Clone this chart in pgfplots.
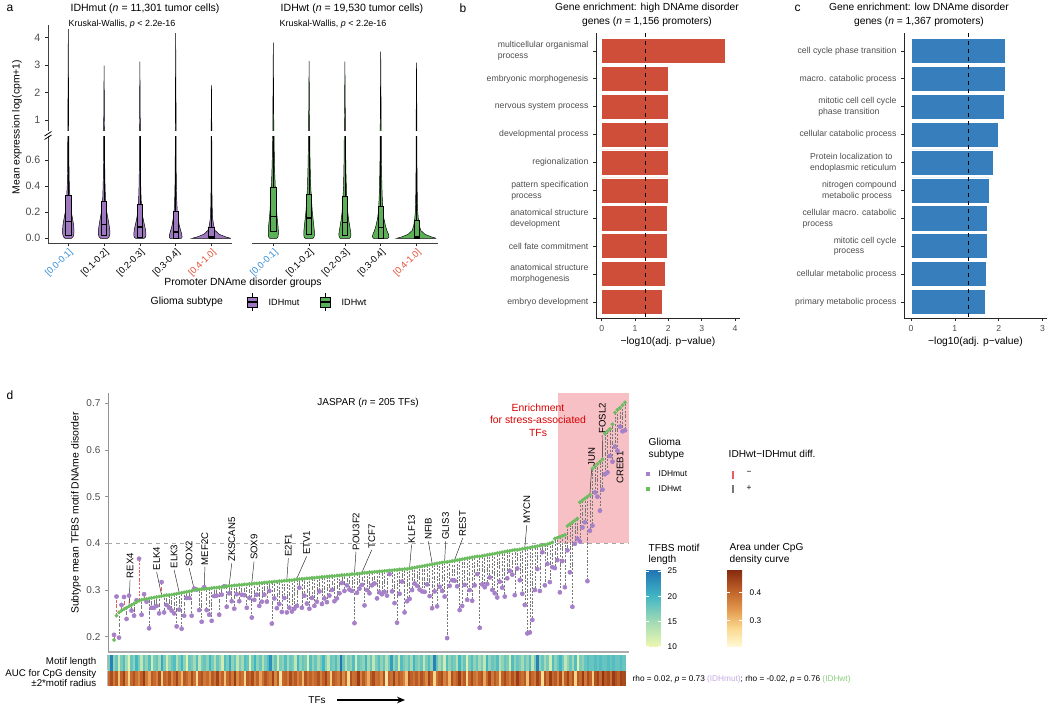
\documentclass[border=0pt]{standalone}
\usepackage{pgfplots}
\usepackage{pgfplotstable}
\pgfplotsset{compat=1.18}
\usepackage{fontspec}
\setmainfont{Liberation Sans}
\usetikzlibrary{arrows.meta}

\definecolor{mutc}{RGB}{157,120,192}
\definecolor{wtc}{RGB}{92,176,88}
\definecolor{ptp}{RGB}{166,128,200}
\definecolor{ptg}{RGB}{108,188,96}
\definecolor{ltp}{RGB}{196,170,225}
\definecolor{ltg}{RGB}{140,205,125}
\definecolor{barred}{RGB}{207,78,57}
\definecolor{barblue}{RGB}{54,127,188}
\definecolor{lblblue}{RGB}{52,140,215}
\definecolor{lblred}{RGB}{226,78,52}
\definecolor{tg}{RGB}{77,77,77}
\definecolor{pinkbg}{RGB}{246,192,197}
\definecolor{dgray}{RGB}{120,120,120}
\definecolor{dred}{RGB}{240,90,95}
\definecolor{m10}{RGB}{237,248,177}
\definecolor{m15}{RGB}{161,218,180}
\definecolor{m20}{RGB}{65,182,196}
\definecolor{m25}{RGB}{34,118,180}
\definecolor{a0}{RGB}{255,250,215}
\definecolor{a1}{RGB}{250,215,140}
\definecolor{a2}{RGB}{225,150,75}
\definecolor{a3}{RGB}{190,95,40}
\definecolor{a4}{RGB}{135,45,15}
\pgfdeclareverticalshading{motifsh}{100bp}{color(0bp)=(m10); color(25bp)=(m10); color(41.67bp)=(m15); color(58.33bp)=(m20); color(75bp)=(m25); color(100bp)=(m25)}
\pgfdeclareverticalshading{aucsh}{100bp}{color(0bp)=(a0); color(25bp)=(a0); color(37.5bp)=(a1); color(50bp)=(a2); color(62.5bp)=(a3); color(75bp)=(a4); color(100bp)=(a4)}

\newcommand{\fs}[1]{\fontsize{#1}{#1}\selectfont}

\pgfplotsset{every axis/.append style={scale only axis, anchor=south west,
  /pgf/number format/assume math mode=true,
  tick align=outside, major tick length=2.2pt,
  axis line style={line width=0.6pt, draw=black!85},
  tick style={line width=0.5pt, draw=black!85}}}

\pgfplotstableread{
s y m1 m2 m3 m4 m5 w1 w2 w3 w4 w5
1 0 0.09 0.10 0.12 0.16 0.54 0.10 0.11 0.13 0.20 0.55
1 0.01 0.13 0.14 0.16 0.18 0.40 0.13 0.14 0.16 0.23 0.42
1 0.03 0.155 0.16 0.17 0.17 0.22 0.14 0.15 0.17 0.22 0.24
1 0.06 0.16 0.16 0.16 0.14 0.10 0.14 0.145 0.155 0.17 0.12
1 0.10 0.15 0.14 0.13 0.10 0.06 0.13 0.13 0.13 0.13 0.075
1 0.15 0.12 0.11 0.09 0.07 0.035 0.11 0.11 0.10 0.09 0.05
1 0.20 0.085 0.075 0.06 0.045 0.024 0.095 0.09 0.08 0.065 0.035
1 0.30 0.05 0.04 0.035 0.028 0.016 0.075 0.065 0.055 0.045 0.024
1 0.40 0.03 0.027 0.024 0.02 0.012 0.055 0.045 0.04 0.033 0.018
1 0.50 0.022 0.02 0.018 0.016 0.01 0.04 0.035 0.03 0.026 0.015
1 0.60 0.018 0.016 0.015 0.013 0.009 0.03 0.026 0.024 0.02 0.012
1 0.85 0.014 0.013 0.012 0.011 0.007 0.018 0.017 0.016 0.014 0.009
-1 0.85 0.014 0.013 0.012 0.011 0.007 0.018 0.017 0.016 0.014 0.009
-1 0.60 0.018 0.016 0.015 0.013 0.009 0.03 0.026 0.024 0.02 0.012
-1 0.50 0.022 0.02 0.018 0.016 0.01 0.04 0.035 0.03 0.026 0.015
-1 0.40 0.03 0.027 0.024 0.02 0.012 0.055 0.045 0.04 0.033 0.018
-1 0.30 0.05 0.04 0.035 0.028 0.016 0.075 0.065 0.055 0.045 0.024
-1 0.20 0.085 0.075 0.06 0.045 0.024 0.095 0.09 0.08 0.065 0.035
-1 0.15 0.12 0.11 0.09 0.07 0.035 0.11 0.11 0.10 0.09 0.05
-1 0.10 0.15 0.14 0.13 0.10 0.06 0.13 0.13 0.13 0.13 0.075
-1 0.06 0.16 0.16 0.16 0.14 0.10 0.14 0.145 0.155 0.17 0.12
-1 0.03 0.155 0.16 0.17 0.17 0.22 0.14 0.15 0.17 0.22 0.24
-1 0.01 0.13 0.14 0.16 0.18 0.40 0.13 0.14 0.16 0.23 0.42
-1 0 0.09 0.10 0.12 0.16 0.54 0.10 0.11 0.13 0.20 0.55
1 0 0.09 0.10 0.12 0.16 0.54 0.10 0.11 0.13 0.20 0.55
}\violtab

\pgfplotstableread{
g p m a
0.193 0.204 17 0.40
0.245 0.286 24 0.44
0.252 0.198 16 0.38
0.256 0.268 18 0.42
0.259 0.285 12 0.30
0.262 0.238 17 0.41
0.265 0.288 19 0.45
0.268 0.256 15 0.37
0.271 0.245 11 0.28
0.274 0.278 18 0.40
0.277 0.367 16 0.43
0.279 0.247 20 0.39
0.280 0.291 17 0.36
0.281 0.275 13 0.41
0.282 0.218 18 0.46
0.283 0.262 16 0.38
0.284 0.262 19 0.33
0.285 0.266 12 0.42
0.286 0.250 17 0.40
0.287 0.317 18 0.37
0.288 0.252 15 0.44
0.289 0.268 21 0.29
0.289 0.262 17 0.41
0.290 0.256 12 0.39
0.291 0.250 16 0.43
0.292 0.222 18 0.36
0.293 0.258 19 0.40
0.294 0.217 14 0.45
0.295 0.245 17 0.38
0.296 0.283 20 0.31
0.297 0.283 16 0.42
0.298 0.245 11 0.40
0.300 0.303 18 0.37
0.301 0.301 17 0.44
0.301 0.257 15 0.39
0.302 0.232 19 0.27
0.302 0.306 13 0.41
0.303 0.257 17 0.43
0.303 0.247 18 0.38
0.304 0.234 16 0.40
0.305 0.287 20 0.35
0.305 0.288 17 0.42
0.306 0.247 14 0.39
0.306 0.290 18 0.45
0.307 0.308 16 0.37
0.308 0.264 12 0.41
0.309 0.293 19 0.30
0.309 0.276 17 0.40
0.310 0.260 21 0.43
0.310 0.291 16 0.38
0.311 0.276 18 0.46
0.311 0.290 13 0.36
0.312 0.289 17 0.41
0.312 0.262 15 0.39
0.313 0.283 19 0.28
0.313 0.241 18 0.42
0.314 0.279 11 0.40
0.314 0.290 17 0.44
0.315 0.266 20 0.37
0.315 0.275 16 0.41
0.316 0.290 18 0.33
0.316 0.275 14 0.39
0.317 0.298 17 0.43
0.317 0.228 19 0.40
0.318 0.282 23 0.38
0.318 0.261 16 0.45
0.319 0.270 18 0.36
0.319 0.253 12 0.42
0.320 0.283 17 0.26
0.320 0.252 16 0.40
0.321 0.262 19 0.41
0.321 0.254 15 0.38
0.322 0.260 18 0.44
0.323 0.266 17 0.39
0.323 0.305 13 0.42
0.324 0.262 20 0.37
0.324 0.288 16 0.40
0.325 0.271 18 0.31
0.325 0.260 17 0.43
0.326 0.283 11 0.39
0.326 0.266 19 0.41
0.327 0.275 16 0.38
0.327 0.297 18 0.40
0.328 0.270 15 0.43
0.328 0.282 17 0.37
0.329 0.274 20 0.41
0.329 0.288 16 0.45
0.330 0.300 13 0.39
0.330 0.276 18 0.29
0.331 0.282 17 0.42
0.331 0.293 19 0.40
0.332 0.315 16 0.38
0.332 0.298 25 0.44
0.333 0.310 18 0.36
0.333 0.301 14 0.41
0.334 0.298 17 0.27
0.334 0.229 16 0.43
0.335 0.294 19 0.39
0.335 0.303 12 0.40
0.336 0.311 18 0.46
0.337 0.267 17 0.37
0.337 0.300 16 0.42
0.338 0.293 20 0.38
0.338 0.310 15 0.32
0.339 0.314 18 0.41
0.339 0.282 13 0.44
0.340 0.295 17 0.39
0.340 0.291 19 0.40
0.341 0.296 16 0.36
0.341 0.288 18 0.43
0.342 0.334 14 0.25
0.342 0.297 17 0.41
0.343 0.272 22 0.39
0.343 0.230 16 0.45
0.344 0.292 18 0.38
0.344 0.318 12 0.42
0.345 0.252 19 0.40
0.345 0.276 17 0.37
0.346 0.281 16 0.30
0.347 0.300 18 0.44
0.348 0.314 15 0.41
0.349 0.309 20 0.39
0.350 0.301 17 0.42
0.351 0.297 16 0.38
0.352 0.296 18 0.43
0.353 0.312 13 0.40
0.354 0.287 17 0.36
0.355 0.261 19 0.45
0.356 0.297 16 0.41
0.357 0.265 24 0.28
0.358 0.307 18 0.39
0.359 0.298 15 0.42
0.360 0.286 17 0.44
0.360 0.197 12 0.37
0.361 0.309 19 0.40
0.362 0.321 16 0.31
0.363 0.320 18 0.43
0.364 0.308 17 0.39
0.365 0.257 14 0.41
0.366 0.266 20 0.46
0.367 0.311 16 0.38
0.368 0.279 18 0.42
0.369 0.300 11 0.27
0.370 0.277 17 0.40
0.371 0.310 19 0.44
0.372 0.334 16 0.39
0.372 0.219 18 0.37
0.373 0.312 15 0.41
0.374 0.306 17 0.43
0.375 0.313 13 0.33
0.376 0.327 20 0.40
0.377 0.300 16 0.45
0.378 0.293 18 0.38
0.379 0.284 17 0.42
0.380 0.318 19 0.39
0.381 0.305 14 0.29
0.382 0.286 16 0.41
0.383 0.325 18 0.44
0.384 0.341 17 0.40
0.385 0.333 12 0.37
0.386 0.289 19 0.43
0.386 0.346 16 0.39
0.387 0.321 18 0.46
0.388 0.292 17 0.41
0.389 0.268 15 0.39
0.390 0.207 18 0.42
0.391 0.209 16 0.30
0.392 0.236 19 0.44
0.393 0.300 13 0.40
0.394 0.345 17 0.38
0.395 0.298 24 0.45
0.396 0.381 16 0.41
0.397 0.310 18 0.27
0.398 0.356 15 0.43
0.400 0.317 17 0.39
0.402 0.349 12 0.46
0.410 0.347 19 0.40
0.412 0.364 16 0.42
0.414 0.295 18 0.37
0.416 0.362 20 0.44
0.418 0.306 17 0.32
0.437 0.385 13 0.41
0.441 0.338 16 0.45
0.445 0.264 18 0.39
0.449 0.399 15 0.43
0.453 0.410 19 0.28
0.488 0.404 11 0.42
0.492 0.434 17 0.40
0.496 0.445 16 0.46
0.500 0.319 18 0.38
0.504 0.427 19 0.44
0.560 0.438 18 0.41
0.565 0.509 18 0.29
0.570 0.500 19 0.43
0.575 0.470 18 0.45
0.580 0.515 19 0.40
0.635 0.548 18 0.47
0.640 0.552 18 0.42
0.645 0.587 19 0.44
0.655 0.575 18 0.39
0.680 0.607 19 0.46
0.686 0.598 18 0.43
0.690 0.650 18 0.41
0.696 0.640 19 0.45
0.702 0.642 18 0.44
}\tfdata

\newcommand{\violin}[3]{\addplot[fill=#3, draw=black, line width=0.35pt] table[x expr={#1+\thisrow{s}*\thisrow{#2}}, y=y] {\violtab};}
% box: left x, centre x, right x, q1, median, q3, colour
\newcommand{\bx}[7]{%
 \addplot[black, line width=0.5pt] coordinates {(#2,#6) (#2,0.9)};
 \addplot[fill=#7, draw=black, line width=0.5pt] coordinates {(#1,#4) (#3,#4) (#3,#6) (#1,#6) (#1,#4)};
 \addplot[black, line width=1.2pt] coordinates {(#1,#5) (#3,#5)};}

\begin{document}
\begin{tikzpicture}
\path[use as bounding box] (0,0) rectangle (787.5pt,-529.5pt);

%================ panel a =================
\pgfplotsset{violax/.style={width=138pt, xmin=0.433, xmax=5.573,
  tick label style={font=\fs{8}, text=tg},
  axis line style={line width=0.7pt, draw=black!75}}}
% left lower
\begin{axis}[violax, at={(36pt,-182.6pt)}, height=80.6pt, ymin=-0.04, ymax=0.787,
  axis x line*=bottom, axis y line*=left,
  ytick={0,0.2,0.4,0.6},
  yticklabel style={/pgf/number format/fixed, /pgf/number format/fixed zerofill, /pgf/number format/precision=1},
  xtick={1,2,3,4,5},
  xticklabels={{\textcolor{lblblue}{[0.0-0.1]}},{[0.1-0.2]},{[0.2-0.3]},{[0.3-0.4]},{\textcolor{lblred}{[0.4-1.0]}}},
  xticklabel style={rotate=45, anchor=north east, inner sep=0.5pt, font=\fs{7}, text=black}]
\violin{1}{m1}{mutc}\violin{2}{m2}{mutc}\violin{3}{m3}{mutc}\violin{4}{m4}{mutc}\violin{5}{m5}{mutc}
\bx{0.925}{1}{1.075}{0.02}{0.128}{0.328}{mutc}
\bx{1.925}{2}{2.075}{0.02}{0.105}{0.287}{mutc}
\bx{2.925}{3}{3.075}{0.01}{0.088}{0.264}{mutc}
\bx{3.925}{4}{4.075}{0.003}{0.05}{0.21}{mutc}
\bx{4.925}{5}{5.075}{0.002}{0.01}{0.083}{mutc}
\end{axis}
% left upper
\begin{axis}[violax, at={(36pt,-98.25pt)}, height=79.5pt, ymin=0.599, ymax=4.463,
  axis y line*=left, axis x line=none, xtick=\empty, ytick={1,2,3,4}]
\addplot[fill=mutc, draw=black, line width=0.35pt] coordinates {(0.987,0.55) (1,4.31) (1.013,0.55)};
\addplot[fill=mutc, draw=black, line width=0.35pt] coordinates {(1.987,0.55) (2,2.98) (2.013,0.55)};
\addplot[fill=mutc, draw=black, line width=0.35pt] coordinates {(2.987,0.55) (3,3.13) (3.013,0.55)};
\addplot[fill=mutc, draw=black, line width=0.35pt] coordinates {(3.987,0.55) (4,4.17) (4.013,0.55)};
\addplot[fill=mutc, draw=black, line width=0.35pt] coordinates {(4.99,0.55) (5,2.27) (5.01,0.55)};
\end{axis}
% right lower
\begin{axis}[violax, width=139.5pt, xmin=0.405, xmax=5.6, at={(189pt,-182.6pt)}, height=80.6pt, ymin=-0.04, ymax=0.787,
  axis x line*=bottom, axis y line=none, ytick=\empty,
  xtick={1,2,3,4,5},
  xticklabels={{\textcolor{lblblue}{[0.0-0.1]}},{[0.1-0.2]},{[0.2-0.3]},{[0.3-0.4]},{\textcolor{lblred}{[0.4-1.0]}}},
  xticklabel style={rotate=45, anchor=north east, inner sep=0.5pt, font=\fs{7}, text=black}]
\violin{1}{w1}{wtc}\violin{2}{w2}{wtc}\violin{3}{w3}{wtc}\violin{4}{w4}{wtc}\violin{5}{w5}{wtc}
\bx{0.925}{1}{1.075}{0.05}{0.167}{0.389}{wtc}
\bx{1.925}{2}{2.075}{0.03}{0.155}{0.338}{wtc}
\bx{2.925}{3}{3.075}{0.02}{0.122}{0.32}{wtc}
\bx{3.925}{4}{4.075}{0.003}{0.083}{0.248}{wtc}
\bx{4.925}{5}{5.075}{0.002}{0.012}{0.135}{wtc}
\end{axis}
% right upper
\begin{axis}[violax, width=139.5pt, xmin=0.405, xmax=5.6, at={(189pt,-98.25pt)}, height=79.5pt, ymin=0.599, ymax=4.463, hide axis]
\addplot[fill=wtc, draw=black, line width=0.35pt] coordinates {(0.985,0.55) (1,3.82) (1.015,0.55)};
\addplot[fill=wtc, draw=black, line width=0.35pt] coordinates {(1.985,0.55) (2,3.15) (2.015,0.55)};
\addplot[fill=wtc, draw=black, line width=0.35pt] coordinates {(2.985,0.55) (3,3.13) (3.015,0.55)};
\addplot[fill=wtc, draw=black, line width=0.35pt] coordinates {(3.985,0.55) (4,3.49) (4.015,0.55)};
\addplot[fill=wtc, draw=black, line width=0.35pt] coordinates {(4.988,0.55) (5,3.09) (5.012,0.55)};
\end{axis}

%================ panel b =================
\begin{axis}[at={(447pt,-238.5pt)}, width=108pt, height=213.75pt,
  xmin=-0.17, xmax=4.15, ymin=0.36, ymax=10.57, y dir=reverse,
  axis x line*=bottom, axis y line*=left,
  xtick={0,1,2,3,4}, ytick={1,...,10},
  tick label style={text=tg},
  xticklabel style={font=\fs{6.5}},
  yticklabel style={align=left, font=\fontsize{6.5}{8.2}\selectfont},
  yticklabels={{multicellular organismal\\process},{embryonic morphogenesis},{nervous system process},{developmental process},{regionalization},{pattern specification\\process},{anatomical structure\\development},{cell fate commitment},{anatomical structure\\morphogenesis},{embryo development}},
  xlabel={−log10(adj. p−value)}, xlabel style={font=\fs{7.7}, yshift=3pt}]
\addplot[xbar, bar width=0.9, bar shift=0pt, fill=barred, draw=white, line width=0.5pt] coordinates {(3.7,1) (2.0,2) (2.0,3) (2.0,4) (2.0,5) (2.0,6) (1.97,7) (1.97,8) (1.9,9) (1.82,10)};
\addplot[black, dashed, line width=0.6pt] coordinates {(1.301,0.36) (1.301,10.57)};
\end{axis}

%================ panel c =================
\begin{axis}[at={(678pt,-238.5pt)}, width=107.25pt, height=213.75pt,
  xmin=-0.16, xmax=3.1, ymin=0.36, ymax=10.57, y dir=reverse,
  axis x line*=bottom, axis y line*=left,
  xtick={0,1,2,3}, ytick={1,...,10},
  tick label style={text=tg},
  xticklabel style={font=\fs{6.5}},
  yticklabel style={align=left, font=\fontsize{6.5}{8.2}\selectfont},
  yticklabels={{cell cycle phase transition},{macro. catabolic process},{mitotic cell cell cycle\\phase transition},{cellular catabolic process},{Protein localization to\\endoplasmic reticulum},{nitrogen compound\\metabolic process},{cellular macro. catabolic\\process},{mitotic cell cycle\\process},{cellular metabolic process},{primary metabolic process}},
  xlabel={−log10(adj. p−value)}, xlabel style={font=\fs{7.7}, yshift=3pt}]
\addplot[xbar, bar width=0.9, bar shift=0pt, fill=barblue, draw=white, line width=0.5pt] coordinates {(2.15,1) (2.15,2) (2.13,3) (2.0,4) (1.87,5) (1.78,6) (1.75,7) (1.75,8) (1.71,9) (1.69,10)};
\addplot[black, dashed, line width=0.6pt] coordinates {(1.301,0.36) (1.301,10.57)};
\end{axis}

%================ panel d =================
\begin{axis}[at={(81pt,-489pt)}, width=390.75pt, height=194.25pt,
  xmin=-1.4, xmax=206.6, ymin=0.1672, ymax=0.722,
  axis x line*=bottom, axis y line*=left, xtick=\empty,
  ytick={0.2,0.3,0.4,0.5,0.6,0.7},
  yticklabel style={/pgf/number format/fixed, /pgf/number format/fixed zerofill, /pgf/number format/precision=1, font=\fs{7.5}, text=tg},
  y axis line style={draw=gray!85, line width=0.6pt},
  x axis line style={draw=gray!65, line width=1.4pt},
  ytick style={draw=gray!85}]
\addplot[fill=pinkbg, draw=none] coordinates {(178.3,0.4) (206.6,0.4) (206.6,0.722) (178.3,0.722)};
\addplot[gray!70, dashed, line width=0.5pt] coordinates {(-1.4,0.4) (206.6,0.4)};
\addplot[draw=none, mark=none, error bars/.cd, y dir=both, y explicit, error mark=none,
  error bar style={draw=dgray, line width=0.42pt, dash pattern=on 1.6pt off 1.1pt}]
  table[x expr=\coordindex+1, y expr={(\thisrow{g}+\thisrow{p})/2}, y error expr={(\thisrow{g}>=\thisrow{p}) ? (\thisrow{g}-\thisrow{p})/2 : 0}] {\tfdata};
\addplot[draw=none, mark=none, error bars/.cd, y dir=both, y explicit, error mark=none,
  error bar style={draw=dred, line width=0.45pt, dash pattern=on 1.6pt off 1.1pt}]
  table[x expr=\coordindex+1, y expr={(\thisrow{g}+\thisrow{p})/2}, y error expr={(\thisrow{p}>\thisrow{g}) ? (\thisrow{p}-\thisrow{g})/2 : 0}] {\tfdata};
\addplot[only marks, mark=*, mark size=1.55pt, color=ptp] table[x expr=\coordindex+1, y=p] {\tfdata};
\addplot[only marks, mark=*, mark size=1.25pt, color=ptg] table[x expr=\coordindex+1, y=g] {\tfdata};
% leader lines and gene labels
\foreach \lab/\ti/\tv/\pi/\pv in {REX4/7.4/0.322/7/0.267, ELK4/18/0.339/20/0.289, ELK3/25/0.343/27/0.295, SOX2/31/0.347/33/0.302, MEF2C/37.3/0.350/37/0.304, ZKSCAN5/48/0.357/47/0.311, SOX9/56.9/0.361/56/0.315, E2F1/70.6/0.368/70/0.322, ETV1/77.9/0.372/74/0.325, POU3F2/97.6/0.382/97/0.336, TCF7/103.9/0.386/100/0.338, KLF13/119.8/0.397/119/0.348, NFIB/126.5/0.404/128/0.357, GLIS3/133.4/0.404/133/0.362, REST/140.2/0.411/137/0.365, MYCN/165.8/0.439/165/0.391, JUN/191.7/0.561/191/0.506, FOSL2/195.9/0.632/196/0.582}{
  \edef\tmp{\noexpand\draw[line width=0.35pt, black!85] (axis cs:\ti,\tv) -- (axis cs:\pi,\pv);
  \noexpand\node[rotate=90, anchor=west, inner sep=1pt, font=\noexpand\fs{7.2}] at (axis cs:\ti,\tv) {\lab};}\tmp
}
\node[rotate=90, anchor=west, inner sep=1pt, font=\fs{7.2}] at (axis cs:203,0.525) {CREB1};
\end{axis}

% motif length strip
\begin{axis}[at={(81pt,-502pt)}, width=387.75pt, height=10pt, xmin=0.5, xmax=205.5, ymin=0, ymax=1,
  xtick=\empty, ytick=\empty, axis line style={draw=gray!55, line width=0.8pt},
  colormap={ylgnbu}{rgb255=(237,248,177) rgb255=(161,218,180) rgb255=(65,182,196) rgb255=(34,118,180)},
  point meta min=10, point meta max=25]
\addplot[scatter, only marks, mark=square*, mark size=1.0pt, point meta=explicit,
  scatter/use mapped color={draw=mapped color, fill=mapped color}, mark options={yscale=5.5}]
  table[x expr=\coordindex+1, y expr=0.5, meta=m] {\tfdata};
\end{axis}
% AUC strip
\begin{axis}[at={(81pt,-513.75pt)}, width=387.75pt, height=10pt, xmin=0.5, xmax=205.5, ymin=0, ymax=1,
  xtick=\empty, ytick=\empty, axis line style={draw=gray!55, line width=0.8pt},
  colormap={ylorbr}{rgb255=(255,250,215) rgb255=(250,215,140) rgb255=(225,150,75) rgb255=(190,95,40) rgb255=(135,45,15)},
  point meta min=0.21, point meta max=0.48]
\addplot[scatter, only marks, mark=square*, mark size=1.0pt, point meta=explicit,
  scatter/use mapped color={draw=mapped color, fill=mapped color}, mark options={yscale=5.5}]
  table[x expr=\coordindex+1, y expr=0.5, meta=a] {\tfdata};
\end{axis}

%================ annotations in pixel coordinates =================
\begin{scope}[x=0.75pt, y=-0.75pt]
% tags
\node[anchor=west, font=\fs{9}] at (2,8) {a};
\node[anchor=west, font=\fs{9}] at (455,8) {b};
\node[anchor=west, font=\fs{9}] at (790,8) {c};
\node[anchor=west, font=\fs{9}] at (2,395) {d};
% panel a texts
\node[font=\fs{7.9}] at (145,9) {IDHmut (\textit{n} = 11,301 tumor cells)};
\node[font=\fs{7.9}] at (352,9) {IDHwt (\textit{n} = 19,530 tumor cells)};
\node[anchor=west, font=\fs{6.7}] at (64,24) {Kruskal-Wallis, \textit{p} < 2.2e-16};
\node[anchor=west, font=\fs{6.7}] at (275,24) {Kruskal-Wallis, \textit{p} < 2.2e-16};
\node[rotate=90, font=\fs{7.8}] at (17,127) {Mean expression log(cpm+1)};
\draw[line width=0.6pt] (44.5,136) -- (51.5,131.5);
\draw[line width=0.6pt] (44.5,139.5) -- (51.5,135);
\node[font=\fs{7.8}] at (243,283) {Promoter DNAme disorder groups};
\node[anchor=west, font=\fs{7.8}] at (146,302) {Glioma subtype};
\draw[line width=0.5pt] (252,293) -- (252,311);
\draw[fill=mutc, line width=0.5pt] (247,297) rectangle (257,307);
\draw[line width=1pt] (247,302) -- (257,302);
\node[anchor=west, font=\fs{6.8}] at (264,302) {IDHmut};
\draw[line width=0.5pt] (325,293) -- (325,311);
\draw[fill=wtc, line width=0.5pt] (320,297) rectangle (330,307);
\draw[line width=1pt] (320,302) -- (330,302);
\node[anchor=west, font=\fs{6.8}] at (337,302) {IDHwt};
% panel b/c titles
\node[align=center, font=\fontsize{7.7}{10.3}\selectfont] at (647,15) {Gene enrichment: high DNAme disorder\\genes (\textit{n} = 1,156 promoters)};
\node[align=center, font=\fontsize{7.7}{10.3}\selectfont] at (919,15) {Gene enrichment: low DNAme disorder\\genes (\textit{n} = 1,367 promoters)};
% panel d texts
\node[rotate=90, font=\fs{7.8}] at (76,513) {Subtype mean TFBS motif DNAme disorder};
\node[font=\fs{7.5}] at (368,403) {JASPAR (\textit{n} = 205 TFs)};
\node[align=center, text=red!85!black, font=\fontsize{7.8}{9.5}\selectfont] at (538,420) {Enrichment\\for stress-associated\\TFs};
\node[anchor=east, font=\fs{7.3}] at (101,662) {Motif length};
\node[anchor=east, font=\fs{7.3}] at (101,673.5) {AUC for CpG density};
\node[anchor=east, font=\fs{7.3}] at (101,683) {±2*motif radius};
\node[font=\fs{7.5}] at (317,700) {TFs};
\draw[-{Stealth[length=6pt,width=5pt]}, line width=1pt] (337,700) -- (405,700);
% legends
\node[anchor=west, font=\fs{7.6}] at (644,441.7) {Glioma};
\node[anchor=west, font=\fs{7.6}] at (644,454.7) {subtype};
\fill[ptp] (645.5,471.5) rectangle (649.5,475.5);
\node[anchor=west, font=\fs{6.3}] at (654,473.5) {IDHmut};
\fill[ptg] (645.5,486.5) rectangle (649.5,490.5);
\node[anchor=west, font=\fs{6.3}] at (654,488.5) {IDHwt};
\node[anchor=west, font=\fs{7.6}] at (724,454) {IDHwt−IDHmut diff.};
\draw[dred, line width=0.8pt] (733,471) -- (733,479);
\node[anchor=west, font=\fs{6.3}] at (742,473) {−};
\draw[dgray, line width=0.8pt] (733,485) -- (733,493);
\node[anchor=west, font=\fs{6.3}] at (742,488.5) {+};
\node[anchor=west, font=\fs{7.6}] at (644,548.3) {TFBS motif};
\node[anchor=west, font=\fs{7.6}] at (644,560) {length};
\shade[shading=motifsh] (646,570.7) rectangle (660.7,646.7);
\foreach \yy/\tt in {571/25,596.3/20,621.7/15,646.7/10}{
  \draw[white, line width=0.4pt] (646,\yy) -- (649,\yy);
  \draw[white, line width=0.4pt] (657.7,\yy) -- (660.7,\yy);
  \node[anchor=west, font=\fs{6.2}] at (663,\yy) {\tt};}
\node[anchor=west, font=\fs{7.6}] at (725,548.3) {Area under CpG};
\node[anchor=west, font=\fs{7.6}] at (725,560) {density curve};
\shade[shading=aucsh] (727,570.7) rectangle (742,646.7);
\foreach \yy/\tt in {592.7/0.4,620.7/0.3}{
  \draw[white, line width=0.4pt] (727,\yy) -- (730,\yy);
  \draw[white, line width=0.4pt] (739,\yy) -- (742,\yy);
  \node[anchor=west, font=\fs{6.2}] at (745,\yy) {\tt};}
\node[anchor=west, font=\fs{6.2}] at (628,679) {rho = 0.02, \textit{p} = 0.73 \textcolor{ltp}{(IDHmut)}; rho = -0.02, \textit{p} = 0.76 \textcolor{ltg}{(IDHwt)}};
\end{scope}
\end{tikzpicture}
\end{document}
